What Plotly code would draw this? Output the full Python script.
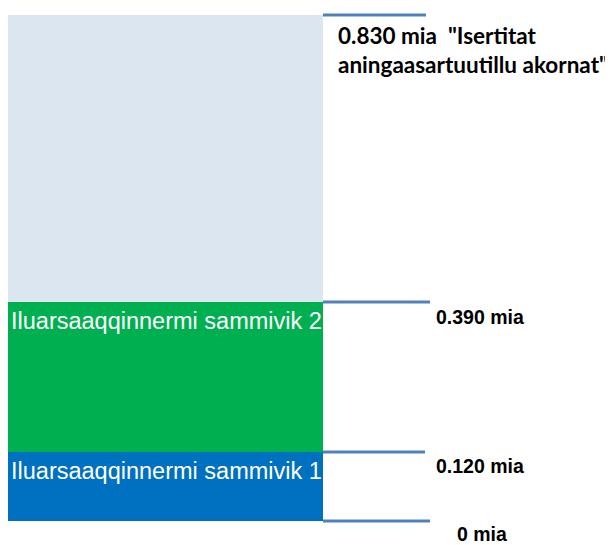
import plotly.graph_objects as go

# stacked segments, bottom to top (heights as drawn, not to scale of labels)
segments = ["Iluarsaaqqinnermi sammivik 1", "Iluarsaaqqinnermi sammivik 2", ""]
seg_heights = [69, 150, 287]
seg_colors = ["#0070C0", "#00B050", "#DCE6F1"]

level_labels = ["0 mia", "0.120 mia", "0.390 mia",
                "0.830 mia  \"Isertitat<br>aningaasartuutillu akornat\""]

levels = [0]
for h in seg_heights:
    levels.append(levels[-1] + h)

fig = go.Figure()
for name, h, c in zip(segments, seg_heights, seg_colors):
    fig.add_trace(go.Bar(
        x=[165.5], y=[h], width=[315],
        marker=dict(color=c, line=dict(width=0)),
        hoverinfo="skip", showlegend=False,
    ))

# segment names, top-left inside each segment
for name, top in zip(segments[:2], levels[1:3]):
    fig.add_annotation(x=9, y=top - 4, text=name, showarrow=False,
                       xanchor="left", yanchor="top",
                       font=dict(size=23.5, color="white", family="Arial, Liberation Sans"))

# marker lines at each level
line_ends = [430, 425, 430, 426]
for lv, xe in zip(levels, line_ends):
    fig.add_shape(type="line", x0=323, x1=xe, y0=lv, y1=lv,
                  line=dict(color="#4F81BD", width=3))

# level labels
offsets = [-13, -14, -15]
xs = [455, 434, 434]
for lv, txt, off, xx in zip(levels[:3], level_labels[:3], offsets, xs):
    fig.add_annotation(x=xx, y=lv + off, text="<b>" + txt + "</b>", showarrow=False,
                       xanchor="left", yanchor="middle",
                       font=dict(size=19.5, color="black", family="Arial, Liberation Sans"))
fig.add_annotation(x=336, y=levels[3] - 35, text="<b>" + level_labels[3] + "</b>",
                   showarrow=False, xanchor="left", yanchor="middle", align="left",
                   font=dict(size=22.5, color="black", family="Lato"))

# page body adds an 8px offset, so the figure is 8px smaller and ranges start there
fig.update_layout(
    width=605, height=537, margin=dict(l=0, r=0, t=0, b=0),
    paper_bgcolor="white", plot_bgcolor="white",
    barmode="stack", bargap=0,
    xaxis=dict(range=[8, 613], visible=False, fixedrange=True),
    yaxis=dict(range=[-24, 513], visible=False, fixedrange=True),
)
fig.write_html("out.html")
